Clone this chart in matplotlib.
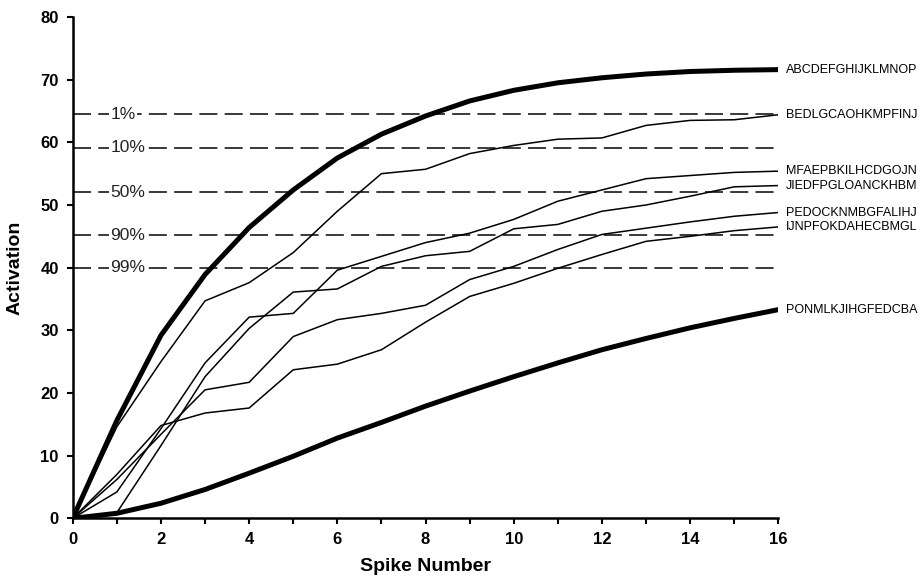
import matplotlib.pyplot as plt
from matplotlib.ticker import MultipleLocator

plt.rcParams['font.family'] = ['Liberation Sans', 'DejaVu Sans']

spikes = list(range(17))

# thick curves (best / worst order)
best = [0, 15.6, 29.2, 38.9, 46.4, 52.4, 57.5, 61.3, 64.2, 66.6, 68.3, 69.5, 70.3, 70.9, 71.3, 71.5, 71.6]
worst = [0, 0.8, 2.4, 4.6, 7.2, 9.9, 12.8, 15.3, 17.9, 20.3, 22.6, 24.8, 26.9, 28.7, 30.4, 31.9, 33.3]

# thin curves
bedlg = [0, 14.6, 25.0, 34.7, 37.6, 42.4, 49.0, 55.0, 55.7, 58.2, 59.5, 60.5, 60.7, 62.7, 63.5, 63.6, 64.4]
mfaep = [0, 4.2, 14.3, 24.8, 32.1, 32.7, 39.6, 41.8, 44.0, 45.5, 47.7, 50.6, 52.4, 54.2, 54.7, 55.2, 55.4]
jiedf = [0, 0.9, 11.6, 22.6, 30.3, 36.1, 36.6, 40.2, 41.9, 42.6, 46.2, 46.9, 49.0, 50.0, 51.4, 52.9, 53.1]
pedoc = [0, 6.2, 13.4, 20.5, 21.7, 29.0, 31.7, 32.7, 34.0, 38.1, 40.2, 42.9, 45.3, 46.3, 47.3, 48.2, 48.8]
ijnpf = [0, 7.0, 14.8, 16.8, 17.6, 23.7, 24.6, 26.9, 31.3, 35.4, 37.5, 39.9, 42.1, 44.2, 45.0, 45.9, 46.5]

thick_names = ['ABCDEFGHIJKLMNOP', 'PONMLKJIHGFEDCBA']
thin_names = ['BEDLGCAOHKMPFINJ', 'MFAEPBKILHCDGOJN', 'JIEDFPGLOANCKHBM',
              'PEDOCKNMBGFALIHJ', 'IJNPFOKDAHECBMGL']

pct_labels = ['1%', '10%', '50%', '90%', '99%']
pct_levels = [64.5, 59.1, 52.0, 45.2, 40.0]

fig = plt.figure(figsize=(9.22, 5.84), dpi=100)
ax = fig.add_axes([0.0789, 0.1125, 0.7653, 0.8584])

# dashed threshold lines with their labels
for lab, lev in zip(pct_labels, pct_levels):
    ax.plot([0, 16], [lev, lev], color='#2a2a2a', lw=1.3, dashes=(10, 4), zorder=1)
    ax.text(0.85, lev, lab, fontsize=12.5, va='center', ha='left', color='#222222',
            bbox=dict(facecolor='white', edgecolor='none', pad=1.0), zorder=2)

for ys in [bedlg, mfaep, jiedf, pedoc, ijnpf]:
    ax.plot(spikes, ys, color='black', lw=1.1, zorder=3)
for ys in [best, worst]:
    ax.plot(spikes, ys, color='black', lw=3.6, zorder=4, solid_capstyle='butt')

# end labels
for name, ys in zip(thick_names + thin_names, [best, worst, bedlg, mfaep, jiedf, pedoc, ijnpf]):
    ax.text(16.18, ys[-1], name, fontsize=9, va='center', ha='left')

ax.set_xlim(0, 16)
ax.set_ylim(0, 80)
ax.xaxis.set_major_locator(MultipleLocator(2))
ax.xaxis.set_minor_locator(MultipleLocator(1))
ax.yaxis.set_major_locator(MultipleLocator(10))

for s in ['top', 'right']:
    ax.spines[s].set_visible(False)
for s in ['left', 'bottom']:
    ax.spines[s].set_linewidth(1.8)

ax.tick_params(axis='both', which='major', direction='out', length=4, width=1.5,
               labelsize=12, pad=6)
ax.tick_params(axis='x', which='minor', direction='out', length=4, width=1.5)
for lbl in ax.get_xticklabels() + ax.get_yticklabels():
    lbl.set_fontweight('bold')

ax.set_xlabel('Spike Number', fontsize=14, fontweight='bold', labelpad=8)
ax.set_ylabel('Activation', fontsize=14, fontweight='bold', labelpad=12)

fig.savefig('out.png', dpi=100)
